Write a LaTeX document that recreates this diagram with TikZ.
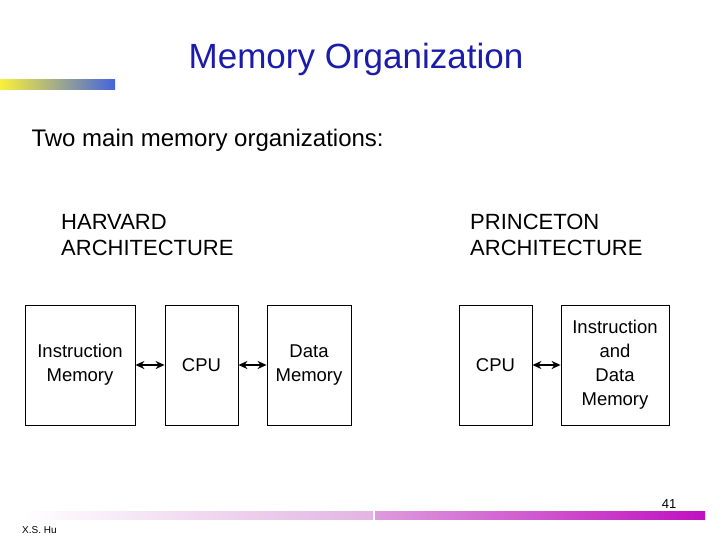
\documentclass[tikz,border=0pt]{standalone}
\usepackage{fontspec}
\setmainfont{Liberation Sans}
\usepackage{tikz}
\usetikzlibrary{positioning,arrows.meta}
\definecolor{memtitle}{RGB}{28,28,170}
\definecolor{memyellow}{RGB}{250,240,60}
\definecolor{memblue}{RGB}{70,100,220}
\definecolor{mempink}{RGB}{226,180,226}
\definecolor{memmagenta}{RGB}{192,16,192}

\begin{document}
\begin{tikzpicture}[
  x=1pt,y=-1pt,
  font=\fontsize{22}{26}\selectfont,
  unitbox/.style={rectangle,draw=black,line width=0.8pt,inner sep=0pt,minimum height=120pt,align=center,
    font=\fontsize{18.5}{24}\selectfont},
  bus/.style={{Stealth[length=9pt,width=8pt]}-{Stealth[length=9pt,width=8pt]},line width=2.4pt},
]
\useasboundingbox (0,0) rectangle (720,540);

\node[font=\fontsize{35}{40}\selectfont,text=memtitle] (title) at (356,59) {Memory Organization};
\shade[left color=memyellow,right color=memblue] (0,80) rectangle (115,90);

\node[anchor=west,font=\fontsize{24}{28}\selectfont] (intro) at (28,140) {Two main memory organizations:};

\node[anchor=north west,align=left,inner sep=0pt] (harvard) at (61,214) {HARVARD\\ARCHITECTURE};
\node[anchor=north west,align=left,inner sep=0pt] (princeton) at (470,214) {PRINCETON\\ARCHITECTURE};

\node[unitbox,minimum width=110pt] (imem) at (80,365) {Instruction\\Memory};
\node[unitbox,minimum width=73pt] (hcpu) at (201.5,365) {CPU};
\node[unitbox,minimum width=84pt] (dmem) at (309,365) {Data\\Memory};
\draw[bus] (imem) -- (hcpu);
\draw[bus] (hcpu) -- (dmem);

\node[unitbox,minimum width=73pt] (pcpu) at (495.5,365) {CPU};
\node[unitbox,minimum width=108pt] (idmem) at (615,365) {Instruction\\and\\Data\\Memory};
\draw[bus] (pcpu) -- (idmem);

\shade[left color=white,right color=mempink] (22,511) rectangle (373,519);
\shade[left color=mempink!85!memmagenta,right color=memmagenta] (375,511) rectangle (705,519);
\node[font=\fontsize{13}{15}\selectfont] (pagenum) at (669,504) {41};
\node[anchor=west,inner sep=0pt,font=\fontsize{10}{12}\selectfont] (author) at (22,530) {X.S. Hu};
\end{tikzpicture}
\end{document}
